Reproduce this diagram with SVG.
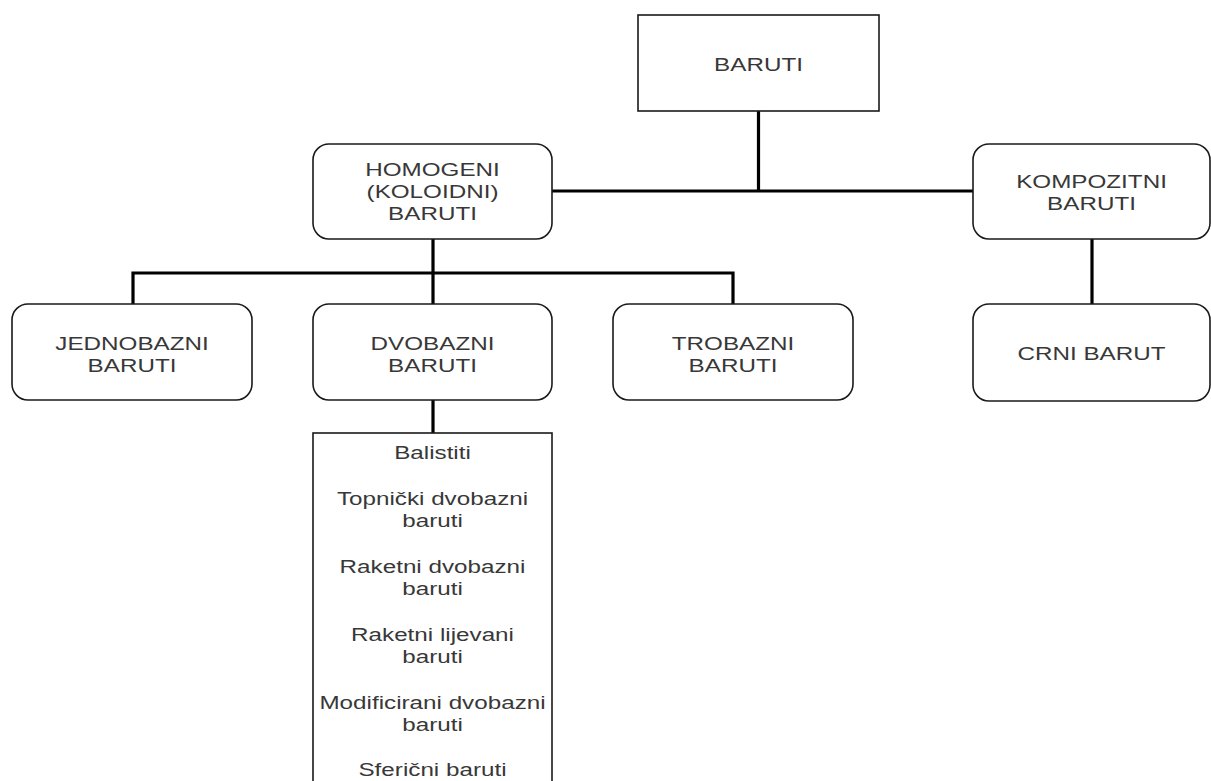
<svg xmlns="http://www.w3.org/2000/svg" width="1211" height="781" viewBox="0 0 1211 781">
<style>
.box{fill:#fff;stroke:#1a1a1a;stroke-width:1.6}
.conn{fill:none;stroke:#000;stroke-width:3.2}
text{font-family:"Liberation Sans",Arial,sans-serif;font-size:18.5px;fill:#383838;text-anchor:middle}
</style>
<rect width="1211" height="781" fill="#fff"/>
<g id="connectors">
<path class="conn" d="M758.5 111 V191 M552 191 H973"/>
<path class="conn" d="M433 239 V304 M133 304 V273 H733 V304"/>
<path class="conn" d="M1092 239 V304"/>
<path class="conn" d="M433 400 V433"/>
</g>
<g id="baruti">
<rect class="box" x="638" y="15" width="241" height="96"/>
<text transform="translate(758.5 0) scale(1.31 1)" y="71">BARUTI</text>
</g>
<g id="homogeni">
<rect class="box" x="313" y="144" width="239" height="95" rx="16"/>
<text transform="translate(432.5 0) scale(1.31 1)" y="176">HOMOGENI</text>
<text transform="translate(432.5 0) scale(1.31 1)" y="198">(KOLOIDNI)</text>
<text transform="translate(432.5 0) scale(1.31 1)" y="220">BARUTI</text>
</g>
<g id="kompozitni">
<rect class="box" x="973" y="144" width="237" height="95" rx="16"/>
<text transform="translate(1091.5 0) scale(1.31 1)" y="188">KOMPOZITNI</text>
<text transform="translate(1091.5 0) scale(1.31 1)" y="210">BARUTI</text>
</g>
<g id="jednobazni">
<rect class="box" x="12" y="304" width="240" height="96" rx="16"/>
<text transform="translate(132 0) scale(1.31 1)" y="350">JEDNOBAZNI</text>
<text transform="translate(132 0) scale(1.31 1)" y="372">BARUTI</text>
</g>
<g id="dvobazni">
<rect class="box" x="313" y="304" width="239" height="96" rx="16"/>
<text transform="translate(432.5 0) scale(1.31 1)" y="350">DVOBAZNI</text>
<text transform="translate(432.5 0) scale(1.31 1)" y="372">BARUTI</text>
</g>
<g id="trobazni">
<rect class="box" x="613" y="304" width="240" height="96" rx="16"/>
<text transform="translate(733 0) scale(1.31 1)" y="350">TROBAZNI</text>
<text transform="translate(733 0) scale(1.31 1)" y="372">BARUTI</text>
</g>
<g id="crni">
<rect class="box" x="973" y="304" width="237" height="97" rx="16"/>
<text transform="translate(1091.5 0) scale(1.31 1)" y="360">CRNI BARUT</text>
</g>
<g id="lista">
<rect class="box" x="313" y="433" width="239" height="360"/>
<text transform="translate(432.5 0) scale(1.31 1)" y="459">Balistiti</text>
<text transform="translate(432.5 0) scale(1.31 1)" y="505">Topnički dvobazni</text>
<text transform="translate(432.5 0) scale(1.31 1)" y="527">baruti</text>
<text transform="translate(432.5 0) scale(1.31 1)" y="573">Raketni dvobazni</text>
<text transform="translate(432.5 0) scale(1.31 1)" y="595">baruti</text>
<text transform="translate(432.5 0) scale(1.31 1)" y="641">Raketni lijevani</text>
<text transform="translate(432.5 0) scale(1.31 1)" y="663">baruti</text>
<text transform="translate(432.5 0) scale(1.31 1)" y="709">Modificirani dvobazni</text>
<text transform="translate(432.5 0) scale(1.31 1)" y="731">baruti</text>
<text transform="translate(432.5 0) scale(1.31 1)" y="776">Sferični baruti</text>
</g>
</svg>
